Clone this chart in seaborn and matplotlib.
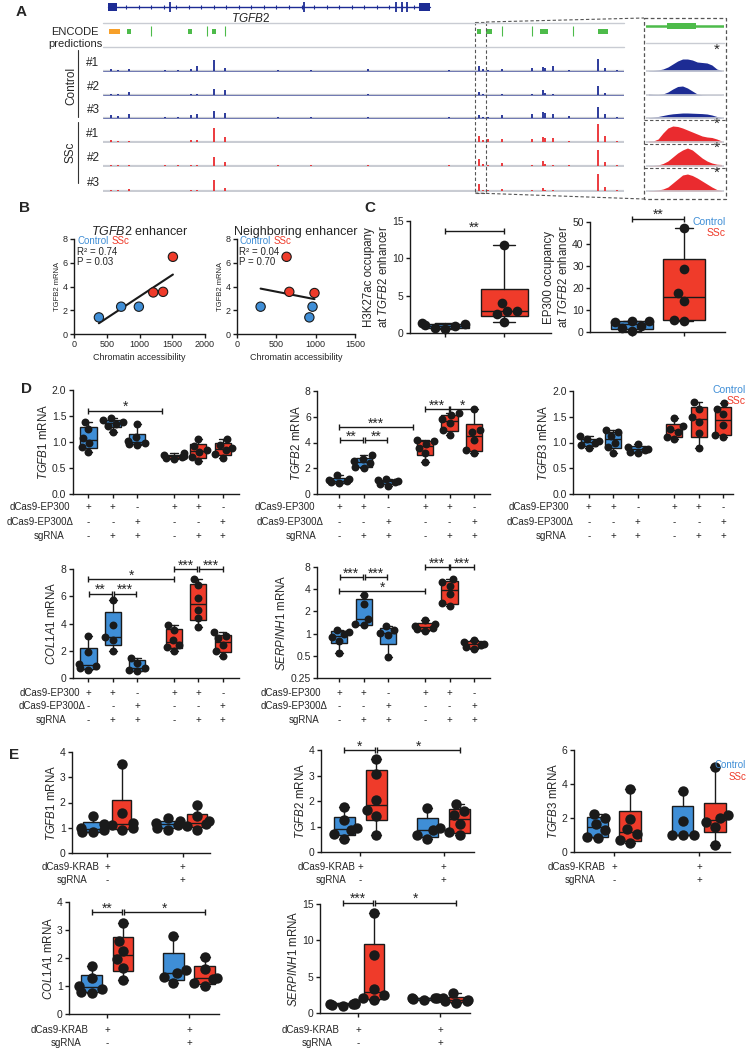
import warnings
warnings.filterwarnings("ignore")
import numpy as np
import pandas as pd
import matplotlib
matplotlib.use("Agg")
import matplotlib.pyplot as plt
import seaborn as sns
from matplotlib import transforms
from matplotlib.patches import Rectangle
from matplotlib.ticker import NullLocator

# ======================= DATA =======================
# ---- Panel A (genome browser, genomic units 0-1000 across the window) ----
gene_span = [10, 628]
gene_utr_blocks = [[10, 27], [607, 628]]
gene_exons = [129, 386, 562, 574, 583]
encode_orange = [[12, 33]]
encode_boxes = [[46, 54], [163, 171], [209, 217], [718, 726], [736, 746], [839, 854], [950, 970]]
encode_ticks = [92, 200, 234, 766, 823, 902]
peak_pos = [16, 28, 50, 119, 144, 168, 181, 213, 234, 335, 399, 509, 665,
            722, 729, 739, 766, 823, 844, 849, 864, 894, 950, 963, 986]
ctrl1_h = [2, 1, 2, 1, 1, 2, 5, 11, 3, 1, 1, 2, 1, 5, 2, 1, 2, 3, 4, 3, 5, 1, 12, 3, 1]
ctrl2_h = [1, 1, 3, .5, .5, 1, 1, 6, 5, .5, .5, 1, .5, 3, 1, .5, 1, 1, 5, 2, 1, .5, 9, 2, .5]
ctrl3_h = [3, 2, 4, 1, 1, 3, 4, 7, 5, 1, 1, 1, 1, 3, 1, 1, 3, 4, 6, 5, 4, 2, 11, 4, 1]
ssc1_h = [2, 1, 1, .5, .5, 2, 2, 14, 5, .5, .5, .5, .5, 6, 2, 3, 3, 3, 5, 4, 4, 1, 18, 6, 1]
ssc2_h = [1, 1, 1, 1, 1, 1, 1, 9, 4, 1, 1, 1, 1, 7, 2, 1, 3, 1, 5, 2, 1, 1, 16, 4, 1]
ssc3_h = [1, 1, 2, .5, .5, 1, 1, 11, 3, .5, .5, .5, .5, 7, 1, 1, 2, 1, 3, 1, 1, .5, 17, 4, 1]
zoom_enc_block = [0.27, 0.64]
zoom_ctrl1 = [0.3, 0.5, 1, 2, 4, 7, 10, 12, 12, 11, 9, 8.5, 8, 6, 2, 0.5]
zoom_ctrl2 = [1, 0.6, 0.5, 1, 3, 6, 8.5, 9, 7, 4, 1, 0.3, 0.2, 0.2, 0.2, 0.2]
zoom_ctrl3 = [0.3, 0.8, 1.5, 2.5, 3.5, 4.2, 4.6, 5, 5, 4.8, 4.6, 4.4, 4, 3, 1.5, 0.4]
zoom_ssc1 = [1, 1, 3, 9, 14, 16, 15.5, 14, 12, 10, 8, 6, 5, 4.5, 3, 1]
zoom_ssc2 = [0.3, 0.5, 1, 2.5, 5, 9, 13, 16, 18, 16, 12, 8, 5, 3, 1.8, 1.5]
zoom_ssc3 = [0.3, 0.5, 1, 2, 4, 8, 12, 16, 17, 15.5, 13, 10, 7, 4, 1.5, 0.5]

# ---- Panel B ----
b_group = ["Control", "Control", "Control", "SSc", "SSc", "SSc"]
b1_access = [380, 720, 990, 1210, 1360, 1510]
b1_mrna = [1.4, 2.3, 2.3, 3.5, 3.55, 6.5]
b2_access = [300, 920, 960, 630, 665, 985]
b2_mrna = [2.3, 1.4, 2.3, 6.5, 3.55, 3.45]

# ---- Panel C ----
c_h3k27ac = [[0.5, 0.7, 0.9, 1.1, 1.2, 1.4], [1.5, 2.5, 2.9, 3.0, 4.0, 11.8]]
c_ep300 = [[0.3, 1.8, 2.5, 4.6, 4.8, 5.2], [5.0, 5.5, 14.0, 17.5, 28.5, 47.5]]

# ---- Panel D (groups: Ctrl x3, SSc x3) ----
d_ep300 = ["+", "+", "-", "+", "+", "-"]
d_ep300d = ["-", "-", "+", "-", "-", "+"]
d_sgrna = ["-", "+", "+", "-", "+", "+"]
d_tgfb1 = [[0.81, 0.9, 0.98, 1.08, 1.25, 1.39], [1.19, 1.31, 1.35, 1.38, 1.42, 1.47],
           [0.95, 0.97, 0.99, 1.02, 1.1, 1.35], [0.68, 0.7, 0.72, 0.73, 0.75, 0.78],
           [0.63, 0.72, 0.8, 0.85, 0.92, 1.05], [0.7, 0.76, 0.84, 0.88, 0.95, 1.05]]
d_tgfb2 = [[0.85, 0.9, 1.0, 1.05, 1.2, 1.45], [2.0, 2.1, 2.4, 2.55, 2.7, 3.0],
           [0.6, 0.8, 0.95, 1.0, 1.1, 1.2], [2.5, 3.2, 3.6, 3.9, 4.1, 4.2],
           [4.6, 5.0, 5.5, 5.8, 6.1, 6.3], [3.2, 3.4, 4.2, 4.8, 5.0, 6.6]]
d_tgfb3 = [[0.89, 0.95, 1.0, 1.03, 1.06, 1.13], [0.8, 0.92, 1.0, 1.13, 1.2, 1.25],
           [0.79, 0.82, 0.86, 0.88, 0.92, 0.97], [1.06, 1.11, 1.2, 1.27, 1.32, 1.48],
           [0.89, 1.18, 1.4, 1.5, 1.66, 1.78], [1.1, 1.15, 1.34, 1.55, 1.66, 1.76]]
d_col1a1 = [[0.6, 0.7, 0.9, 1.0, 1.9, 3.05], [2.0, 2.8, 3.0, 3.9, 5.75],
            [0.5, 0.6, 0.75, 1.1, 1.5], [2.0, 2.3, 2.45, 2.8, 3.5, 3.9],
            [3.75, 4.4, 5.0, 5.9, 6.8, 7.3], [1.65, 2.0, 2.4, 2.9, 3.1, 3.4]]
d_serpinh1 = [[0.55, 0.8, 0.9, 0.98, 1.06, 1.12], [1.3, 1.35, 1.6, 2.5, 3.3],
              [0.48, 0.95, 1.03, 1.13, 1.25], [1.1, 1.14, 1.2, 1.27, 1.35, 1.52],
              [2.4, 2.6, 3.4, 4.4, 5.0, 5.5], [0.62, 0.65, 0.7, 0.73, 0.78, 0.83]]

# ---- Panel E (groups: Ctrl, SSc | Ctrl, SSc) ----
e_krab = ["+", "+"]
e_sgrna = ["-", "+"]
e_tgfb1 = [[0.82, 0.85, 0.9, 1.0, 1.15, 1.45], [0.92, 0.98, 1.1, 1.2, 1.6, 3.54],
           [0.92, 1.0, 1.1, 1.18, 1.25, 1.38], [0.92, 1.05, 1.15, 1.25, 1.45, 1.9]]
e_tgfb2 = [[0.52, 0.7, 0.85, 0.95, 1.25, 1.77], [0.67, 1.43, 1.63, 2.05, 3.07, 3.65],
           [0.5, 0.65, 0.85, 0.95, 1.73], [0.65, 0.8, 1.1, 1.45, 1.6, 1.88]]
e_tgfb3 = [[0.85, 0.9, 1.3, 1.65, 2.0, 2.25], [0.55, 0.7, 1.05, 1.35, 1.95, 3.7],
           [1.0, 1.0, 1.0, 1.8, 3.6], [0.4, 1.45, 1.75, 2.0, 2.2, 5.0]]
e_col1a1 = [[0.75, 0.8, 0.9, 1.0, 1.3, 1.7], [1.2, 1.65, 1.95, 2.25, 2.6, 3.25],
            [1.12, 1.33, 1.47, 1.57, 2.78], [1.0, 1.1, 1.25, 1.3, 1.6, 2.05]]
e_serpinh1 = [[1.0, 1.1, 1.2, 1.25, 1.3, 1.35], [1.8, 2.0, 2.5, 3.3, 8.0, 13.8],
              [1.8, 1.9, 2.0, 2.0, 2.1], [1.4, 1.6, 1.7, 1.8, 2.0, 2.8]]

# ======================= STYLE =======================
sns.set_theme(style="ticks")
plt.rcParams["font.family"] = ["Liberation Sans", "DejaVu Sans"]
plt.rcParams["mathtext.fontset"] = "custom"
plt.rcParams["mathtext.it"] = "Liberation Sans:italic"
plt.rcParams["mathtext.rm"] = "Liberation Sans"
plt.rcParams["mathtext.bf"] = "Liberation Sans:bold"
plt.rcParams["axes.linewidth"] = 1.0

NAVY = "#1d2c94"
TRK_RED = "#ea2b2f"
BLUE = "#3f8ed6"
RED = "#ef3b2a"
GREEN = "#4dbb4a"
ORANGE = "#f7a02a"
GRAY = "#c9ccd3"

W, H = 746, 1050
fig = plt.figure(figsize=(W / 100, H / 100), dpi=100)


def pax(x0, y0, x1, y1):
    return fig.add_axes([x0 / W, 1 - y1 / H, (x1 - x0) / W, (y1 - y0) / H])


def ftext(x, y, s, **kw):
    kw.setdefault("ha", "center")
    kw.setdefault("va", "center")
    fig.text(x / W, 1 - y / H, s, **kw)


# ======================= PANEL A =======================
ovl = fig.add_axes([0, 0, 1, 1], zorder=5)
ovl.set_xlim(0, W)
ovl.set_ylim(H, 0)
ovl.axis("off")

axg = pax(103, 0, 624, 14)
axg.set_xlim(0, 1000); axg.set_ylim(-1, 1); axg.axis("off")
axg.plot(gene_span, [0, 0], color=NAVY, lw=1.0)
for a, b in gene_utr_blocks:
    axg.add_patch(Rectangle((a, -0.55), b - a, 1.1, color=NAVY, lw=0))
axg.vlines(gene_exons, -0.75, 0.75, color=NAVY, lw=1.3)
deco = np.arange(45, 600, 24)
axg.plot(deco, np.zeros(len(deco)), ls="none", marker="|", ms=2.5, mew=0.8, color=NAVY)
ftext(251, 18, r"$\it{TGFB2}$", fontsize=8.5)

axe = pax(103, 23, 624, 47)
axe.set_xlim(0, 1000); axe.set_ylim(0, 24); axe.axis("off")
for a, b in encode_orange:
    axe.add_patch(Rectangle((a, 13.5), b - a, 5, color=ORANGE, lw=0))
for a, b in encode_boxes:
    axe.add_patch(Rectangle((a, 13.5), b - a, 5, color=GREEN, lw=0))
axe.vlines(encode_ticks, 11, 21, color=GREEN, lw=0.8)

tracks = [("#1", ctrl1_h, NAVY, 71, zoom_ctrl1), ("#2", ctrl2_h, NAVY, 95, zoom_ctrl2),
          ("#3", ctrl3_h, NAVY, 118, zoom_ctrl3), ("#1", ssc1_h, TRK_RED, 142, zoom_ssc1),
          ("#2", ssc2_h, TRK_RED, 166, zoom_ssc2), ("#3", ssc3_h, TRK_RED, 191, zoom_ssc3)]
for lab, hts, col, base, zprof in tracks:
    ax = pax(103, base - 25, 624, base + 1)
    ax.set_xlim(0, 1000); ax.set_ylim(-1, 25); ax.axis("off")
    ax.axhline(0, color=GRAY, lw=1.6)
    if col == NAVY:
        ax.axhline(0, color=NAVY, lw=0.6, alpha=0.6)
    ax.vlines(peak_pos, 0, hts, color=col, lw=1.3)
    az = pax(646, base - 25, 724, base + 1)
    az.set_xlim(0, 1); az.set_ylim(-1, 25); az.axis("off")
    az.axhline(0, color=GRAY, lw=1.2)
    az.fill_between(np.linspace(0.03, 0.97, len(zprof)), 0, zprof, color=col, lw=0)
    ftext(93, base - 8, lab, fontsize=8.5)

aze = pax(646, 20, 724, 32)
aze.set_xlim(0, 1); aze.set_ylim(-1, 1); aze.axis("off")
aze.plot([0, 1], [0, 0], color=GREEN, lw=1.8)
aze.add_patch(Rectangle((zoom_enc_block[0], -0.5), zoom_enc_block[1] - zoom_enc_block[0], 1.0,
                        color=GREEN, lw=0))

for yy in (23, 47):
    ovl.plot([103, 624], [yy, yy], color=GRAY, lw=1.0)
ovl.plot([646, 724], [43, 43], color=GRAY, lw=1.0)
dash = (0, (3, 2))
ovl.add_patch(Rectangle((475, 22), 11, 171, fill=False, ls=dash, lw=0.8, ec="#555555"))
ovl.add_patch(Rectangle((644, 18), 82, 181, fill=False, ls=dash, lw=0.9, ec="#555555"))
ovl.plot([486, 644], [22, 18], ls=dash, lw=0.8, color="#555555")
ovl.plot([475, 644], [193, 199], ls=dash, lw=0.8, color="#555555")
for yy in (120, 144, 168):
    ovl.plot([644, 726], [yy, yy], ls=dash, lw=0.8, color="#555555")
ovl.plot([78, 78], [50, 117], color="#333333", lw=0.8)
ovl.plot([78, 78], [122, 183], color="#333333", lw=0.8)
ftext(71, 86, "Control", rotation=90, fontsize=8.5)
ftext(71, 152, "SSc", rotation=90, fontsize=8.5)
ftext(75, 32, "ENCODE", fontsize=8)
ftext(75, 44, "predictions", fontsize=8)
for yy in (50, 124, 148, 173):
    ftext(717, yy, "*", fontsize=11)
ftext(21, 12, "A", fontsize=11, fontweight="bold")


# ======================= helpers =======================
def style_ax(ax, fs=7.5):
    sns.despine(ax=ax)
    ax.tick_params(axis="both", length=3, width=1, labelsize=fs, pad=1.5, direction="out", color="k")
    for sp in ("left", "bottom"):
        ax.spines[sp].set_color("k")


def box_panel(ax, groups, pos, cols, bw, ms, xlim, ylim, yticks, ylabel, xticks=None,
              ylabels=None, log=False, fs=7.5, lfs=8.3):
    ax.set_xlim(*xlim)
    if log:
        ax.set_yscale("log", base=2)
    ax.set_ylim(*ylim)
    stats = []
    for v in groups:
        q1, med, q3 = np.percentile(v, [25, 50, 75], method="weibull")
        stats.append(dict(med=med, q1=q1, q3=q3, whislo=min(v), whishi=max(v), fliers=[]))
    bp = ax.bxp(stats, positions=pos, widths=bw, patch_artist=True, showfliers=False,
                manage_ticks=False, capwidths=bw * 0.45,
                boxprops=dict(edgecolor="k", linewidth=1.0),
                medianprops=dict(color="k", linewidth=1.0),
                whiskerprops=dict(color="k", linewidth=1.0),
                capprops=dict(color="k", linewidth=1.0))
    for p, c in zip(bp["boxes"], cols):
        p.set_facecolor(c)
    df = pd.DataFrame({"pos": np.repeat(pos, [len(v) for v in groups]),
                       "val": np.concatenate(groups)})
    sns.swarmplot(data=df, x="pos", y="val", native_scale=True, orient="x", color="k",
                  size=ms, ax=ax, zorder=3, warn_thresh=1)
    for coll in ax.collections:
        coll.set_clip_on(False)
    ax.set_xlim(*xlim)
    ax.set_ylim(*ylim)
    ax.set_xticks(pos if xticks is None else xticks)
    ax.set_xticklabels([])
    ax.set_yticks(yticks)
    ax.yaxis.set_minor_locator(NullLocator())
    ax.set_yticklabels(ylabels if ylabels is not None else [str(t) for t in yticks])
    ax.set_xlabel("")
    ax.set_ylabel(ylabel, fontsize=lfs, labelpad=1.5)
    style_ax(ax, fs)


def sig(ax, x1, x2, y, s, fs=10):
    ax.plot([x1, x2], [y, y], color="k", lw=1, clip_on=False, solid_capstyle="butt")
    ax.plot([x1, x2], [y, y], ls="none", marker="|", ms=5, mew=1, color="k", clip_on=False)
    ax.annotate(s, ((x1 + x2) / 2, y), xytext=(0, -2.5), textcoords="offset points",
                ha="center", va="bottom", fontsize=fs, annotation_clip=False)


def cond_table(ax, xs, rows, ys, gaps, fs=7):
    tr = transforms.blended_transform_factory(ax.transData, fig.transFigure)
    x_first = ax.transData.transform((xs[0], 1))[0]
    for (label, vals), yp, gp in zip(rows, ys, gaps):
        ftext(x_first - gp, yp, label, ha="right", fontsize=fs)
        for x, v in zip(xs, vals):
            ax.text(x, 1 - yp / H, v, transform=tr, ha="center", va="center", fontsize=fs,
                    clip_on=False)


# ======================= PANEL B =======================
pal = {"Control": BLUE, "SSc": RED}
for (x0, x1, xmax, xt, acc, mrna, title, r2, pv, cx, sx) in [
        (74, 205, 2000, [0, 500, 1000, 1500, 2000], b1_access, b1_mrna,
         r"$\it{TGFB2}$ enhancer", "0.74", "0.03", 77, 112),
        (237, 355, 1500, [0, 500, 1000, 1500], b2_access, b2_mrna,
         "Neighboring enhancer", "0.04", "0.70", 239, 274)]:
    ax = pax(x0, 239, x1, 334)
    sns.regplot(x=acc, y=mrna, ax=ax, ci=None, scatter=False, truncate=True, color="k",
                line_kws=dict(lw=1.5))
    sns.scatterplot(x=acc, y=mrna, hue=b_group, palette=pal, s=45, edgecolor="k",
                    linewidth=0.8, legend=False, ax=ax, zorder=3, clip_on=False)
    ax.set_xlim(0, xmax); ax.set_ylim(0, 8)
    ax.set_xticks(xt); ax.set_yticks([0, 2, 4, 6, 8])
    ax.set_xlabel("Chromatin accessibility", fontsize=6.5, labelpad=3)
    ax.set_ylabel("TGFB2 mRNA", fontsize=5.5, labelpad=1)
    ax.set_title(title, fontsize=9, pad=3)
    style_ax(ax, 6.5)
    ftext(cx, 241, "Control", color=BLUE, ha="left", fontsize=7)
    ftext(sx, 241, "SSc", color=RED, ha="left", fontsize=7)
    ftext(cx, 252, "R² = " + r2, ha="left", fontsize=7)
    ftext(cx, 262, "P = " + pv, ha="left", fontsize=7)
ftext(25, 208, "B", fontsize=11, fontweight="bold")

# ======================= PANEL C =======================
axc1 = pax(410, 221, 551, 333)
box_panel(axc1, c_h3k27ac, [0, 1], [BLUE, RED], 0.8, 7, (-0.6, 1.8), (0, 15), [0, 5, 10, 15],
          "H3K27ac occupany\nat $\\it{TGFB2}$ enhancer", lfs=8.3)
sig(axc1, 0, 1, 13.6, "**")
axc2 = pax(590, 222, 725, 332)
box_panel(axc2, c_ep300, [0, 1], [BLUE, RED], 0.8, 7, (-0.81, 1.79), (0, 50),
          [0, 10, 20, 30, 40, 50], "EP300 occupancy\nat $\\it{TGFB2}$ enhancer", lfs=8.3)
sig(axc2, 0, 1, 51.5, "**")
ftext(726, 222, "Control", color=BLUE, ha="right", fontsize=7.5)
ftext(726, 233, "SSc", color=RED, ha="right", fontsize=7.5)
ftext(370, 208, "C", fontsize=11, fontweight="bold")

# ======================= PANEL D =======================
D_POS = [0, 1, 2, 3.5, 4.5, 5.5]
D_COL = [BLUE] * 3 + [RED] * 3
d_rows = [("dCas9-EP300", d_ep300), ("dCas9-EP300Δ", d_ep300d), ("sgRNA", d_sgrna)]
f1 = ["0.0", "0.5", "1.0", "1.5", "2.0"]
DMS = 5.7

axd1 = pax(72.6, 390, 238.6, 494)
box_panel(axd1, d_tgfb1, D_POS, D_COL, 0.66, DMS, (-0.65, 6.15), (0, 2), [0, 0.5, 1, 1.5, 2],
          r"$\it{TGFB1}$ mRNA", ylabels=f1)
sig(axd1, 0, 3, 1.6, "*")
cond_table(axd1, D_POS, d_rows, [507, 522, 536], [18, 15, 24])

axd2 = pax(317, 391, 490, 494)
box_panel(axd2, d_tgfb2, D_POS, D_COL, 0.66, DMS, (-0.9, 6.15), (0, 8), [0, 2, 4, 6, 8],
          r"$\it{TGFB2}$ mRNA")
sig(axd2, 0.04, 0.96, 4.2, "**")
sig(axd2, 1.04, 1.96, 4.2, "**")
sig(axd2, 0, 3, 5.2, "***")
sig(axd2, 3.5, 4.46, 6.6, "***")
sig(axd2, 4.54, 5.5, 6.6, "*")
cond_table(axd2, D_POS, d_rows, [507, 522, 536], [24, 16, 23])

axd3 = pax(573, 391, 733, 494)
box_panel(axd3, d_tgfb3, D_POS, D_COL, 0.66, DMS, (-0.65, 5.9), (0, 2), [0, 0.5, 1, 1.5, 2],
          r"$\it{TGFB3}$ mRNA", ylabels=f1)
cond_table(axd3, D_POS, d_rows, [507, 522, 536], [20, 15, 22])
ftext(746, 390, "Control", color=BLUE, ha="right", fontsize=7.5)
ftext(746, 401, "SSc", color=RED, ha="right", fontsize=7.5)

axd4 = pax(72.6, 569, 238.6, 678)
box_panel(axd4, d_col1a1, D_POS, D_COL, 0.66, DMS, (-0.65, 6.15), (0, 8), [0, 2, 4, 6, 8],
          r"$\it{COL1A1}$ mRNA")
sig(axd4, 0.04, 0.96, 6.2, "**")
sig(axd4, 1.04, 1.96, 6.2, "***")
sig(axd4, 0, 3.5, 7.25, "*")
sig(axd4, 3.5, 4.46, 8.0, "***")
sig(axd4, 4.54, 5.5, 8.0, "***")
cond_table(axd4, D_POS, d_rows, [693, 706, 720], [8, 3, 22])

axd5 = pax(317, 567, 490, 678)
box_panel(axd5, d_serpinh1, D_POS, D_COL, 0.66, DMS, (-0.9, 6.15), (0.25, 8),
          [0.25, 0.5, 1, 2, 4, 8], r"$\it{SERPINH1}$ mRNA",
          ylabels=["0.25", "0.5", "1", "2", "4", "8"], log=True)
sig(axd5, 0.04, 0.96, 5.8, "***")
sig(axd5, 1.04, 1.96, 5.8, "***")
sig(axd5, 0, 3.5, 3.8, "*")
sig(axd5, 3.5, 4.46, 8.0, "***")
sig(axd5, 4.54, 5.5, 8.0, "***")
cond_table(axd5, D_POS, d_rows, [693, 706, 720], [18, 12, 20])
ftext(26, 389, "D", fontsize=11, fontweight="bold")

# ======================= PANEL E =======================
E_POS = [0, 1, 2.6, 3.6]
E_COL = [BLUE, RED, BLUE, RED]
E_TICKS = [0.5, 3.1]
E_XL = (-0.72, 4.05)
e_rows = [("dCas9-KRAB", e_krab), ("sgRNA", e_sgrna)]
EMS = 7.5

axe1 = pax(72, 752, 210, 853)
box_panel(axe1, e_tgfb1, E_POS, E_COL, 0.66, EMS, E_XL, (0, 4), [0, 1, 2, 3, 4],
          r"$\it{TGFB1}$ mRNA", xticks=E_TICKS)
cond_table(axe1, E_TICKS, e_rows, [867, 880], [8, 20])

axe2 = pax(321, 750, 474, 852)
box_panel(axe2, e_tgfb2, E_POS, E_COL, 0.66, EMS, E_XL, (0, 4), [0, 1, 2, 3, 4],
          r"$\it{TGFB2}$ mRNA", xticks=E_TICKS)
sig(axe2, 0, 0.96, 4.0, "*")
sig(axe2, 1.04, 3.6, 4.0, "*")
cond_table(axe2, E_TICKS, e_rows, [867, 880], [5, 14])

axe3 = pax(574, 750, 730, 852)
box_panel(axe3, e_tgfb3, E_POS, E_COL, 0.66, EMS, E_XL, (0, 6), [0, 2, 4, 6],
          r"$\it{TGFB3}$ mRNA", xticks=E_TICKS)
cond_table(axe3, E_TICKS, e_rows, [867, 880], [8, 18])
ftext(746, 765, "Control", color=BLUE, ha="right", fontsize=7)
ftext(746, 777, "SSc", color=RED, ha="right", fontsize=7)

axe4 = pax(69, 902, 219, 1014)
box_panel(axe4, e_col1a1, E_POS, E_COL, 0.66, EMS, E_XL, (0, 4), [0, 1, 2, 3, 4],
          r"$\it{COL1A1}$ mRNA", xticks=E_TICKS)
sig(axe4, 0, 0.96, 3.64, "**")
sig(axe4, 1.04, 3.6, 3.64, "*")
cond_table(axe4, E_TICKS, e_rows, [1030, 1043], [19, 26])

axe5 = pax(320, 904, 470, 1013)
box_panel(axe5, e_serpinh1, E_POS, E_COL, 0.66, EMS, E_XL, (0, 15), [0, 5, 10, 15],
          r"$\it{SERPINH1}$ mRNA", xticks=E_TICKS)
sig(axe5, 0, 0.96, 15.2, "***")
sig(axe5, 1.04, 3.6, 15.2, "*")
cond_table(axe5, E_TICKS, e_rows, [1030, 1043], [19, 26])
ftext(14, 755, "E", fontsize=11, fontweight="bold")

fig.savefig("out.png", dpi=100)
